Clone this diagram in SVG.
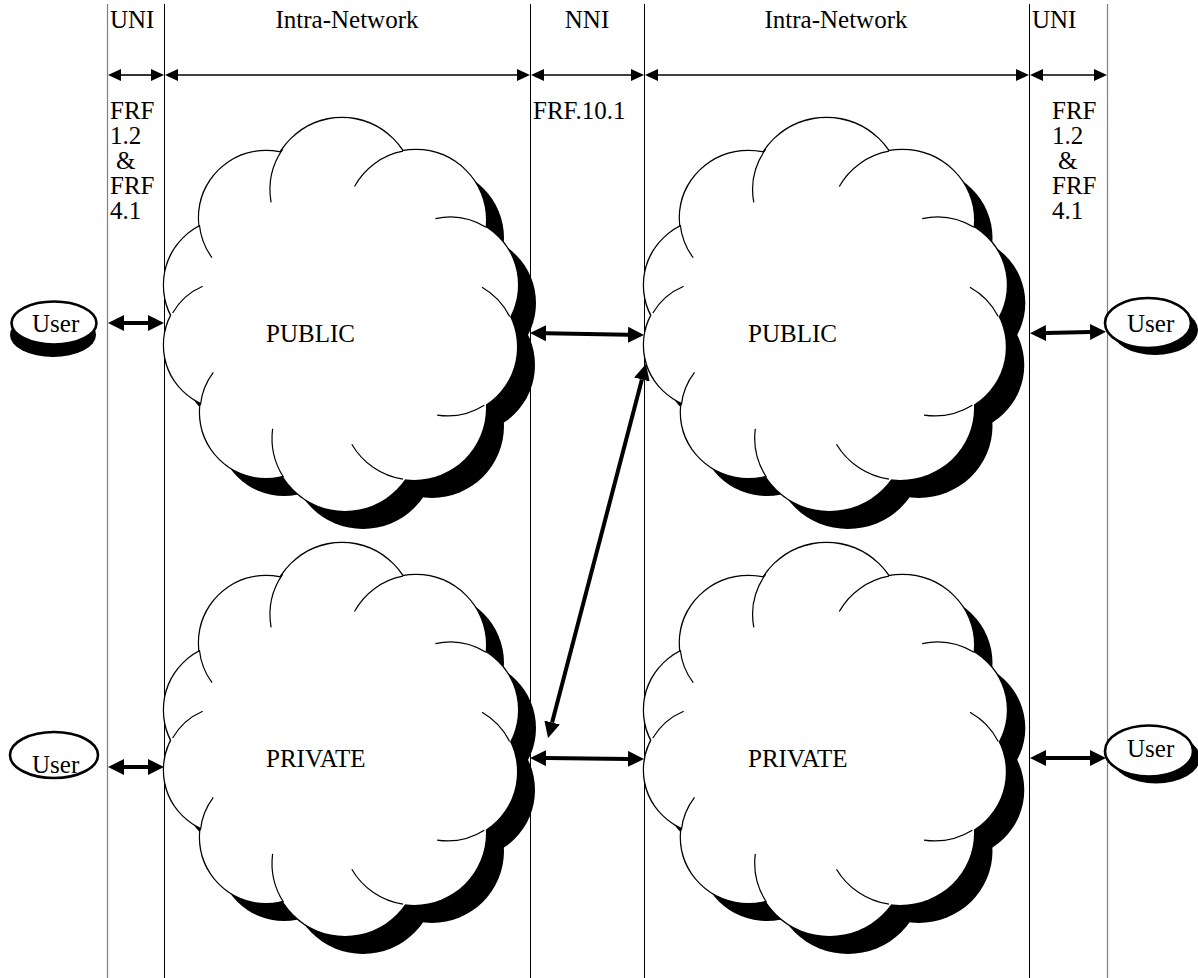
<svg xmlns="http://www.w3.org/2000/svg" xmlns:xlink="http://www.w3.org/1999/xlink" width="1198" height="978" viewBox="0 0 1198 978">
<style>
text{font-family:"Liberation Serif","Times New Roman",serif;font-size:25px;fill:#000}
.vl{stroke:#000;stroke-width:1;fill:none}
.vg{stroke:#808080;stroke-width:1.2;fill:none}
.thin{stroke:#000;stroke-width:1.6;fill:none;marker-start:url(#ah);marker-end:url(#ah)}
.thick{stroke:#000;stroke-width:4;fill:none;marker-start:url(#AH);marker-end:url(#AH)}
.arc{fill:none;stroke:#000;stroke-width:1.2}
.user{fill:#fff;stroke:#000;stroke-width:2.6}
</style>
<defs>
<marker id="ah" markerUnits="userSpaceOnUse" markerWidth="14" markerHeight="14" refX="0" refY="6" orient="auto-start-reverse" viewBox="0 0 14 12"><path d="M0,0 L13,6 L0,12 z" fill="#000"/></marker>
<marker id="AH" markerUnits="userSpaceOnUse" markerWidth="18" markerHeight="16" refX="0" refY="8" orient="auto-start-reverse" viewBox="0 0 18 16"><path d="M0,0 L16,8 L0,16 z" fill="#000"/></marker>
<g id="lobes">
<circle cx="342" cy="190" r="72"/>
<circle cx="266" cy="218" r="67"/>
<circle cx="230" cy="285" r="66"/>
<circle cx="228" cy="345" r="64"/>
<circle cx="266" cy="412" r="66"/>
<circle cx="345" cy="438" r="73"/>
<circle cx="414" cy="408" r="72"/>
<circle cx="448" cy="347" r="69"/>
<circle cx="450" cy="285" r="68"/>
<circle cx="416" cy="220" r="70"/>
</g>
<g id="cloud">
<use xlink:href="#lobes" fill="#000" transform="translate(18,18)"/>
<circle cx="360" cy="332" r="125" fill="#000"/>
<use xlink:href="#lobes" fill="none" stroke="#000" stroke-width="2.4"/>
<use xlink:href="#lobes" fill="#fff"/>
<circle cx="342" cy="314" r="130" fill="#fff"/>
<path class="arc" d="M282.7,149.1 A72,72 0 0 0 271.1,202.4"/>
<path class="arc" d="M199.4,225 A67,67 0 0 0 212,257.7"/>
<path class="arc" d="M202.7,286.2 A64,64 0 0 0 172.6,313"/>
<path class="arc" d="M213.3,372.3 A66,66 0 0 0 200.4,405.1"/>
<path class="arc" d="M272.6,428.9 A73,73 0 0 0 283.5,477.3"/>
<path class="arc" d="M351.8,444.2 A72,72 0 0 0 403,479.2"/>
<path class="arc" d="M437.2,415.1 A69,69 0 0 0 484.3,405.2"/>
<path class="arc" d="M482,287.2 A69,69 0 0 1 509.6,316.4"/>
<path class="arc" d="M435.4,218.6 A68,68 0 0 1 486,227.3"/>
<path class="arc" d="M354.5,186.5 A70,70 0 0 1 403,151.2"/>
</g>
</defs>

<g id="columns">
<line class="vg" x1="107.5" y1="4" x2="107.5" y2="978"/>
<line class="vl" x1="164.5" y1="4" x2="164.5" y2="978"/>
<line class="vl" x1="530.5" y1="4" x2="530.5" y2="978"/>
<line class="vl" x1="644.5" y1="4" x2="644.5" y2="978"/>
<line class="vl" x1="1029.5" y1="4" x2="1029.5" y2="978"/>
<line class="vg" x1="1107.5" y1="4" x2="1107.5" y2="978"/>
</g>

<g id="headers">
<text x="110" y="28">UNI</text>
<text x="347" y="28" text-anchor="middle">Intra-Network</text>
<text x="587" y="28" text-anchor="middle">NNI</text>
<text x="836" y="28" text-anchor="middle">Intra-Network</text>
<text x="1032" y="28">UNI</text>
<text x="110" y="119">FRF</text>
<text x="110" y="144">1.2</text>
<text x="116" y="169">&amp;</text>
<text x="110" y="194">FRF</text>
<text x="110" y="219">4.1</text>
<text x="533" y="119">FRF.10.1</text>
<text x="1052" y="119">FRF</text>
<text x="1052" y="144">1.2</text>
<text x="1058" y="169">&amp;</text>
<text x="1052" y="194">FRF</text>
<text x="1052" y="219">4.1</text>
</g>

<g id="cloud-public-left">
<use xlink:href="#cloud"/>
<text x="266" y="342">PUBLIC</text>
</g>
<g id="cloud-public-right">
<use xlink:href="#cloud" transform="translate(644,0) scale(1.025,1) translate(-164,0)"/>
<text x="748" y="342">PUBLIC</text>
</g>
<g id="cloud-private-left">
<use xlink:href="#cloud" transform="translate(0,425)"/>
<text x="266" y="767">PRIVATE</text>
</g>
<g id="cloud-private-right">
<use xlink:href="#cloud" transform="translate(644,425) scale(1.025,1) translate(-164,0)"/>
<text x="748" y="767">PRIVATE</text>
</g>

<g id="user-tl">
<ellipse cx="53" cy="335" rx="43" ry="22" fill="#000"/>
<ellipse class="user" cx="54" cy="323" rx="42.5" ry="21.5"/>
<text x="32" y="332">User</text>
</g>
<g id="user-tr">
<ellipse cx="1155" cy="330" rx="43" ry="25" fill="#000"/>
<ellipse class="user" cx="1148" cy="323" rx="43" ry="25"/>
<text x="1127" y="332">User</text>
</g>
<g id="user-bl">
<ellipse class="user" cx="54" cy="755" rx="44" ry="23"/>
<text x="32" y="773">User</text>
</g>
<g id="user-br">
<ellipse cx="1156" cy="758" rx="44" ry="25.5" fill="#000"/>
<ellipse class="user" cx="1149" cy="751" rx="44" ry="25.5"/>
<text x="1127" y="757">User</text>
</g>

<g id="connectors">
<line class="thin" x1="121" y1="75" x2="151" y2="75"/>
<line class="thin" x1="178" y1="75" x2="517" y2="75"/>
<line class="thin" x1="544" y1="75" x2="631" y2="75"/>
<line class="thin" x1="658" y1="75" x2="1016" y2="75"/>
<line class="thin" x1="1043" y1="75" x2="1094" y2="75"/>
<line class="thick" x1="124" y1="323" x2="148" y2="323"/>
<line class="thick" x1="1046" y1="333" x2="1090" y2="332"/>
<line class="thick" x1="546" y1="333.3" x2="628" y2="334.7"/>
<line class="thick" x1="124" y1="767" x2="148" y2="767"/>
<line class="thick" x1="1046" y1="758" x2="1090" y2="758"/>
<line class="thick" x1="546" y1="758.1" x2="628" y2="758.9"/>
<line class="thick" x1="641.9" y1="379.5" x2="552.1" y2="722.5"/>
</g>
</svg>
